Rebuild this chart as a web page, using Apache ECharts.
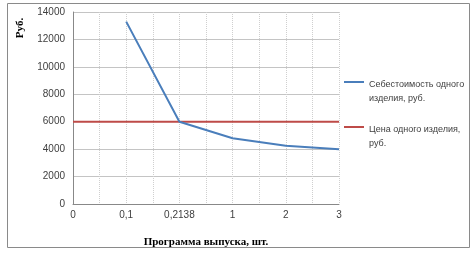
<!DOCTYPE html>
<html><head><meta charset="utf-8">
<script src="https://cdn.jsdelivr.net/npm/echarts@6/dist/echarts.min.js"></script>
<style>html,body{margin:0;padding:0;background:#fff}#c{width:475px;height:253px}</style>
</head><body><div id="c"></div>
<script>
const categories = ['0', '0,1', '0,2138', '1', '2', '3'];
const costValues = [null, 13300, 6000, 4800, 4250, 4000];
const priceValues = [6000, 6000, 6000, 6000, 6000, 6000];
const yTicks = [0, 2000, 4000, 6000, 8000, 10000, 12000, 14000];
const seriesNames = ['Себестоимость одного изделия, руб.', 'Цена одного изделия, руб.'];
const legendLines = {
  'Себестоимость одного изделия, руб.': 'Себестоимость одного\nизделия, руб.',
  'Цена одного изделия, руб.': 'Цена одного изделия,\nруб.'
};
const xTitle = 'Программа выпуска, шт.';
const yTitle = 'Руб.';

const chart = echarts.init(document.getElementById('c'));
const iconPath = 'path://M0,6H20V8H0Z M0,27.9H0.05V28H0Z';
chart.setOption({
  animation: false,
  grid: { left: 73, right: 136, top: 12, bottom: 49 },
  legend: {
    orient: 'vertical', left: 339, top: 73, itemGap: 17,
    itemWidth: 20, itemHeight: 28, icon: iconPath,
    data: seriesNames,
    formatter: n => legendLines[n],
    textStyle: { fontFamily: 'Liberation Sans', fontSize: 9, color: '#404040', lineHeight: 14 }
  },
  xAxis: [{
    type: 'category', data: categories, boundaryGap: false,
    name: xTitle, nameLocation: 'middle', nameGap: 33,
    nameTextStyle: { fontFamily: 'Liberation Serif', fontWeight: 'bold', fontSize: 11, color: '#000' },
    axisLine: { lineStyle: { color: '#888', width: 1 } },
    axisTick: { show: false },
    axisLabel: { fontFamily: 'Liberation Sans', fontSize: 10, color: '#404040', margin: 6 },
    splitLine: { show: true, lineStyle: { color: '#cfcfcf', type: 'dotted', width: 1 } }
  }, {
    type: 'value', min: 0, max: 10, interval: 1, show: true, position: 'bottom',
    axisLine: { show: false }, axisTick: { show: false }, axisLabel: { show: false },
    splitLine: { show: true, lineStyle: { color: '#cfcfcf', type: 'dotted', width: 1 } }
  }],
  yAxis: {
    type: 'value', min: yTicks[0], max: yTicks[yTicks.length - 1], interval: 2000,
    axisLine: { show: true, lineStyle: { color: '#888', width: 1 } },
    axisTick: { show: false },
    axisLabel: { fontFamily: 'Liberation Sans', fontSize: 10, color: '#404040', margin: 8, formatter: v => String(v) },
    splitLine: { lineStyle: { color: '#c4c4c4', width: 1 } }
  },
  graphic: [
    { type: 'rect', shape: { x: 7.5, y: 3.5, width: 462, height: 244 }, style: { fill: 'none', stroke: '#8a8a8a', lineWidth: 1 }, z: -1 },
    { type: 'text', x: 20, y: 28, rotation: Math.PI / 2, style: { text: yTitle, font: 'bold 11px "Liberation Serif"', fill: '#000', align: 'center', verticalAlign: 'middle' } }
  ],
  series: [
    { name: seriesNames[0], type: 'line', data: costValues, showSymbol: false, symbol: 'none',
      lineStyle: { color: '#4a7ebb', width: 2 }, itemStyle: { color: '#4a7ebb' }, z: 3 },
    { name: seriesNames[1], type: 'line', data: priceValues, showSymbol: false, symbol: 'none',
      lineStyle: { color: '#be4b48', width: 2 }, itemStyle: { color: '#be4b48' }, z: 2 }
  ]
});
</script></body></html>
